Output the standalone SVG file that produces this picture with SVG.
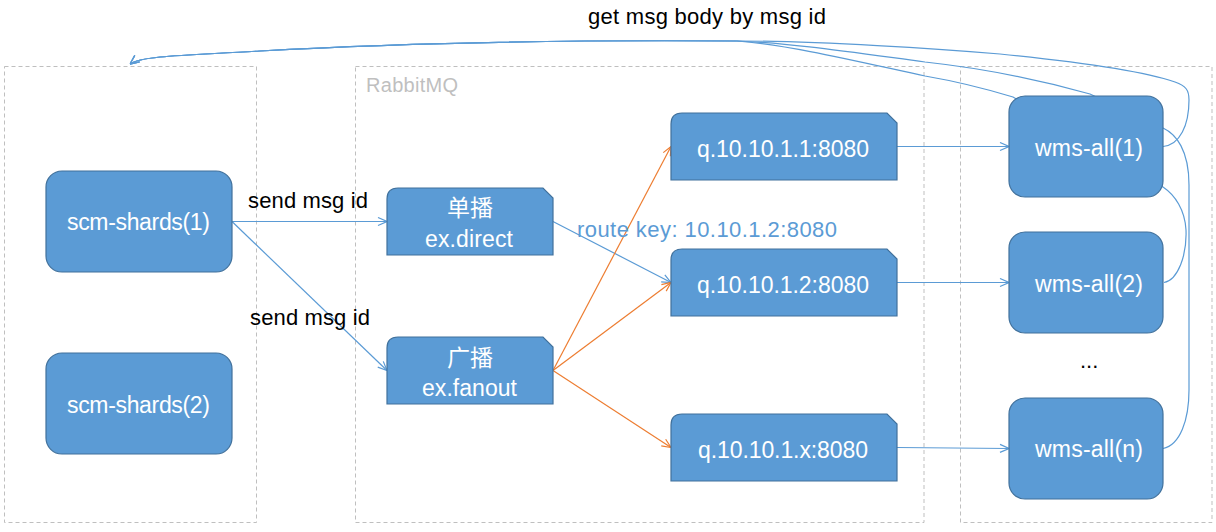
<svg xmlns="http://www.w3.org/2000/svg" width="1216" height="532" viewBox="0 0 1216 532">
<defs>
<style>
.cont{fill:none;stroke:#BFBFBF;stroke-width:1;stroke-dasharray:4 3}
.box{fill:#5B9BD5;stroke:#41719C;stroke-width:1.2}
.cb{fill:none;stroke:#5B9BD5;stroke-width:1.2}
.co{fill:none;stroke:#ED7D31;stroke-width:1.2}
.nt{font-family:"Liberation Sans",Arial,sans-serif;font-size:23px;fill:#FFFFFF}
.cj{font-family:"Noto Sans CJK SC",sans-serif;font-size:23px;fill:#FFFFFF;text-anchor:middle}
.lb{font-family:"Liberation Sans",Arial,sans-serif;font-size:22px;fill:#000000}
</style>
<marker id="arrB" viewBox="0 0 10 10" refX="10" refY="5" markerWidth="10" markerHeight="10" markerUnits="userSpaceOnUse" orient="auto">
<path d="M1,1 L10,5 L1,9" fill="none" stroke="#5B9BD5" stroke-width="1.2"/>
</marker>
<marker id="arrO" viewBox="0 0 10 10" refX="10" refY="5" markerWidth="10" markerHeight="10" markerUnits="userSpaceOnUse" orient="auto">
<path d="M1,1 L10,5 L1,9" fill="none" stroke="#ED7D31" stroke-width="1.2"/>
</marker>
</defs>
<rect width="1216" height="532" fill="#FFFFFF"/>
<g id="containers">
<rect class="cont" x="4.5" y="66.5" width="252" height="456"/>
<rect class="cont" x="355.5" y="66.5" width="568.5" height="456"/>
<rect class="cont" x="960.5" y="66.5" width="251.5" height="456"/>
<text x="366" y="92" textLength="92" style="font-family:'Liberation Sans',Arial,sans-serif;font-size:20px;fill:#BFBFBF">RabbitMQ</text>
</g>
<g id="connectors">
<path class="cb" d="M232,221.5 L387,221.5" marker-end="url(#arrB)"/>
<path class="cb" d="M232,221.5 L387,370.5" marker-end="url(#arrB)"/>
<path class="cb" d="M553,221.5 L671,282.5" marker-end="url(#arrB)"/>
<path class="co" d="M553,370.5 L671,146.5" marker-end="url(#arrO)"/>
<path class="co" d="M553,370.5 L671,282.5" marker-end="url(#arrO)"/>
<path class="co" d="M553,370.5 L671,447.5" marker-end="url(#arrO)"/>
<path class="cb" d="M897,146.5 L1009,146.5" marker-end="url(#arrB)"/>
<path class="cb" d="M897,282.5 L1009,282.5" marker-end="url(#arrB)"/>
<path class="cb" d="M897,447.5 L1009,448.5" marker-end="url(#arrB)"/>
<path class="cb" d="M1163,146.5 C1180,145 1189,125 1189,100 C1189,90 1186,86 1175,82 C1140,70 1060,60 1000,54 C940,49 820,41 737,41 C600,40 420,42 260,51 C200,55 142,55 130,64" marker-end="url(#arrB)"/>
<path class="cb" d="M1163,448.5 C1180,445 1189,420 1189,390 L1189,185 C1189,150 1176,134 1163,128 L1090,94 C1040,80 980,68 925,62 C850,52 790,43 737,41 C600,40 420,42 260,51 C200,55 142,55 130,64" marker-end="url(#arrB)"/>
<path class="cb" d="M1164,282.5 C1178,280 1187,255 1186,230 C1185,210 1175,195 1163,187 L1013,97 C990,90 960,82 925,76 C860,62 790,45 737,41 C600,40 420,42 260,51 C200,55 142,55 130,64" marker-end="url(#arrB)"/>
</g>
<g id="scm1"><rect class="box" x="46" y="171" width="186" height="101" rx="16"/><text class="nt" x="67" y="230" textLength="143">scm-shards(1)</text></g>
<g id="scm2"><rect class="box" x="46" y="353" width="186" height="101" rx="16"/><text class="nt" x="67" y="413" textLength="143">scm-shards(2)</text></g>
<g id="exdirect"><path class="box" d="M387,255 L387,199 Q387,188 398,188 L543,188 L553,198 L553,255 Z"/><text class="cj" x="470" y="216">单播</text><text class="nt" x="425" y="247" textLength="88">ex.direct</text></g>
<g id="exfanout"><path class="box" d="M387,404 L387,348 Q387,337 398,337 L543,337 L553,347 L553,404 Z"/><text class="cj" x="470" y="366">广播</text><text class="nt" x="422" y="396" textLength="95">ex.fanout</text></g>
<g id="q1"><path class="box" d="M671,180 L671,124 Q671,113 682,113 L887,113 L897,123 L897,180 Z"/><text class="nt" x="697" y="157" textLength="172">q.10.10.1.1:8080</text></g>
<g id="q2"><path class="box" d="M671,316 L671,260 Q671,249 682,249 L887,249 L897,259 L897,316 Z"/><text class="nt" x="697" y="293" textLength="172">q.10.10.1.2:8080</text></g>
<g id="qx"><path class="box" d="M671,481 L671,425 Q671,414 682,414 L887,414 L897,424 L897,481 Z"/><text class="nt" x="698" y="458" textLength="170">q.10.10.1.x:8080</text></g>
<g id="wms1"><rect class="box" x="1009" y="96" width="154" height="101" rx="16"/><text class="nt" x="1035" y="155.5" textLength="108">wms-all(1)</text></g>
<g id="wms2"><rect class="box" x="1009" y="232" width="154" height="101" rx="16"/><text class="nt" x="1035" y="292" textLength="108">wms-all(2)</text></g>
<g id="wmsn"><rect class="box" x="1009" y="398" width="154" height="101" rx="16"/><text class="nt" x="1035" y="456.5" textLength="108">wms-all(n)</text></g>
<g id="labels">
<text class="lb" x="588" y="24" textLength="238">get msg body by msg id</text>
<text class="lb" x="248" y="208" textLength="120">send msg id</text>
<text class="lb" x="250" y="325" textLength="120">send msg id</text>
<text x="577" y="237" textLength="260" style="font-family:'Liberation Sans',Arial,sans-serif;font-size:22px;fill:#5B9BD5">route key: 10.10.1.2:8080</text>
<text class="lb" x="1080" y="368">...</text>
</g>
</svg>
